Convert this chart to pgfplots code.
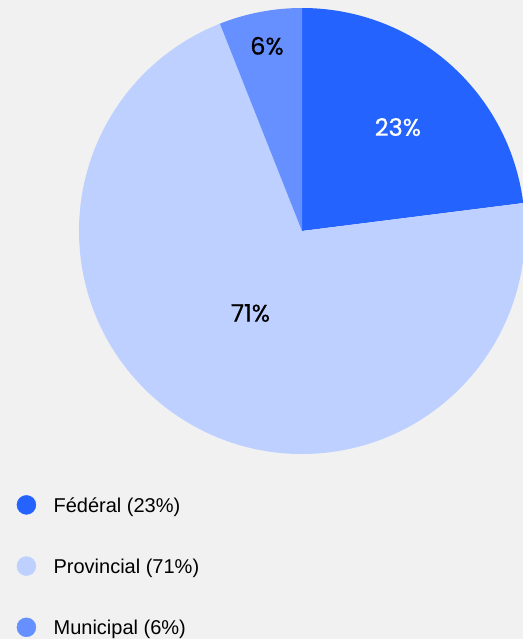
\documentclass[border=0pt]{standalone}
\usepackage{fontspec}
\usepackage{pgfplots}
\pgfplotsset{compat=1.18}
\setmainfont{Liberation Sans}
\newfontfamily\labfont[FakeBold=0.6]{Poppins}
\definecolor{bgcol}{HTML}{F1F1F1}
\definecolor{fedcol}{HTML}{2563FF}
\definecolor{provcol}{HTML}{BDD0FF}
\definecolor{municol}{HTML}{6690FF}

% shares in percent, drawn clockwise from the top
\def\valF{23}
\def\valP{71}
\def\valM{6}
\pgfmathsetmacro\aA{90}
\pgfmathsetmacro\aB{\aA-3.6*\valF}
\pgfmathsetmacro\aC{\aB-3.6*\valP}
\pgfmathsetmacro\aD{\aC-3.6*\valM}

\begin{document}
\begin{tikzpicture}
\useasboundingbox (0,0) rectangle (523bp,639bp);
\clip (0,0) rectangle (523bp,639bp);
\fill[bgcol] (0,0) rectangle (523bp,639bp);
\begin{axis}[
    at={(79bp,185bp)}, anchor=south west,
    width=446bp, height=446bp, scale only axis,
    xmin=-1, xmax=1, ymin=-1, ymax=1,
    hide axis, clip=false,
    legend cell align=left,
    legend image code/.code={
        \fill[#1] (0bp,2.5bp) circle[radius=9.5bp];
        \path (-9.5bp,0bp) (27bp,0bp);
    },
    legend style={
        at={(-0.1401,-0.0919)}, anchor=north west,
        draw=none, fill=none, inner sep=0pt,
        row sep=40bp, column sep=0pt,
        font=\fontsize{20bp}{24bp}\selectfont,
        nodes={inner sep=0pt, text height=14bp, text depth=4bp},
    },
]
    \fill[fedcol] (axis cs:0,0) -- (axis cs:{cos(\aA)},{sin(\aA)})
        arc[start angle=\aA, end angle=\aB, radius=223bp] -- cycle;
    \fill[provcol] (axis cs:0,0) -- (axis cs:{cos(\aB)},{sin(\aB)})
        arc[start angle=\aB, end angle=\aC, radius=223bp] -- cycle;
    \fill[municol] (axis cs:0,0) -- (axis cs:{cos(\aC)},{sin(\aC)})
        arc[start angle=\aC, end angle=\aD, radius=223bp] -- cycle;

    \node[white, font=\labfont\fontsize{24bp}{28bp}\selectfont] at (axis cs:0.430,0.466) {23\%};
    \node[black, font=\labfont\fontsize{24bp}{28bp}\selectfont] at (axis cs:-0.157,0.830) {6\%};
    \node[black, font=\labfont\fontsize{24bp}{28bp}\selectfont] at (axis cs:-0.231,-0.368) {71\%};

    \addlegendimage{fedcol}
    \addlegendentry{Fédéral (23\%)}
    \addlegendimage{provcol}
    \addlegendentry{Provincial (71\%)}
    \addlegendimage{municol}
    \addlegendentry{Municipal (6\%)}
\end{axis}
\end{tikzpicture}
\end{document}
